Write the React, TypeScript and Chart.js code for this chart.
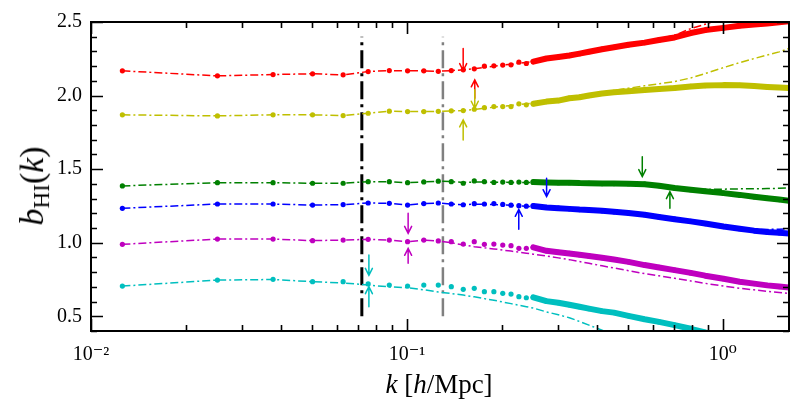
import React, { useEffect, useRef } from "react";
import { Chart, registerables } from "chart.js";

Chart.register(...registerables);

// wavenumbers k [h/Mpc] of the measured modes
const kValues = [
  0.01257, 0.02513, 0.0377, 0.05027, 0.06283, 0.0754, 0.08796, 0.1005, 0.1131, 0.1257,
  0.1382, 0.1508, 0.1634, 0.1759, 0.1885, 0.2011, 0.2136, 0.2262, 0.2388, 0.2513,
  0.2765, 0.3016, 0.3267, 0.3519, 0.377,
  0.4147, 0.4524, 0.5027, 0.5655, 0.6283, 0.7037, 0.7917, 0.8796, 1.0053, 1.131,
  1.2566, 1.3823, 1.508, 1.621,
];

// measured bias (dots)
const redData = [
  2.168, 2.134, 2.143, 2.148, 2.141, 2.163, 2.17, 2.168, 2.168, 2.165,
  2.17, 2.175, 2.182, 2.2, 2.202, 2.207, 2.209, 2.227, 2.218, 2.231,
  2.252, 2.262, 2.272, 2.285, 2.298,
  2.315, 2.328, 2.345, 2.36, 2.378, 2.395, 2.425, 2.445, 2.46, 2.475,
  2.483, 2.49, 2.498, 2.505,
];
const yellowData = [
  1.869, 1.862, 1.869, 1.869, 1.864, 1.88, 1.894, 1.891, 1.891, 1.893,
  1.896, 1.898, 1.907, 1.918, 1.925, 1.925, 1.925, 1.944, 1.937, 1.944,
  1.959, 1.966, 1.982, 1.989, 2.0,
  2.014, 2.022, 2.03, 2.038, 2.045, 2.052, 2.062, 2.068, 2.071, 2.07,
  2.065, 2.059, 2.055, 2.052,
];
const greenData = [
  1.386, 1.408, 1.408, 1.404, 1.404, 1.415, 1.415, 1.408, 1.413, 1.418,
  1.415, 1.404, 1.42, 1.415, 1.41, 1.412, 1.41, 1.412, 1.41, 1.412,
  1.41, 1.408, 1.408, 1.405, 1.404,
  1.402, 1.402, 1.401, 1.398, 1.387, 1.372, 1.36, 1.35, 1.337, 1.325,
  1.312, 1.302, 1.293, 1.285,
];
const blueData = [
  1.234, 1.263, 1.263, 1.256, 1.259, 1.27, 1.268, 1.256, 1.266, 1.27,
  1.263, 1.258, 1.265, 1.263, 1.266, 1.26, 1.255, 1.252, 1.248, 1.25,
  1.24, 1.235, 1.23, 1.225, 1.222,
  1.217, 1.21, 1.202, 1.19, 1.175, 1.16, 1.145, 1.13, 1.11, 1.095,
  1.082, 1.073, 1.067, 1.062,
];
const magentaData = [
  0.989, 1.025, 1.025, 1.014, 1.018, 1.023, 1.018, 1.007, 1.018, 1.012,
  1.007, 0.991, 1.007, 0.989, 0.991, 0.984, 0.98, 0.962, 0.962, 0.969,
  0.945, 0.935, 0.927, 0.918, 0.91,
  0.898, 0.886, 0.87, 0.848, 0.832, 0.814, 0.795, 0.776, 0.755, 0.735,
  0.722, 0.71, 0.702, 0.695,
];
const cyanData = [
  0.705, 0.746, 0.751, 0.735, 0.735, 0.72, 0.712, 0.705, 0.712, 0.712,
  0.701, 0.683, 0.69, 0.667, 0.667, 0.656, 0.651, 0.633, 0.626, 0.629,
  0.603, 0.592, 0.578, 0.565, 0.552,
  0.535, 0.525, 0.503, 0.48, 0.462, 0.44, 0.415, 0.39, 0.365, 0.345,
  0.33, 0.315, 0.305, 0.295,
];

// model curves (dash-dot)
const redModel = [
  2.168, 2.134, 2.143, 2.148, 2.141, 2.163, 2.17, 2.168, 2.168, 2.165,
  2.17, 2.175, 2.183, 2.192, 2.2, 2.207, 2.213, 2.22, 2.226, 2.232,
  2.246, 2.259, 2.271, 2.283, 2.295,
  2.312, 2.328, 2.346, 2.366, 2.385, 2.41, 2.455, 2.485, 2.525, 2.56,
  2.59, 2.62, 2.65, 2.67,
];
const yellowModel = [
  1.869, 1.862, 1.869, 1.869, 1.864, 1.88, 1.894, 1.891, 1.891, 1.893,
  1.896, 1.898, 1.905, 1.914, 1.921, 1.927, 1.933, 1.939, 1.944, 1.949,
  1.959, 1.968, 1.978, 1.988, 1.998,
  2.018, 2.035, 2.05, 2.066, 2.08, 2.095, 2.12, 2.15, 2.19, 2.224,
  2.252, 2.275, 2.297, 2.32,
];
const greenModel = [
  1.386, 1.408, 1.408, 1.404, 1.404, 1.415, 1.415, 1.408, 1.413, 1.418,
  1.415, 1.41, 1.412, 1.412, 1.411, 1.411, 1.41, 1.41, 1.41, 1.409,
  1.408, 1.407, 1.406, 1.405, 1.404,
  1.402, 1.401, 1.399, 1.395, 1.386, 1.374, 1.364, 1.362, 1.364, 1.366,
  1.367, 1.368, 1.37, 1.372,
];
const blueModel = [
  1.234, 1.263, 1.263, 1.256, 1.259, 1.27, 1.268, 1.256, 1.266, 1.27,
  1.263, 1.258, 1.262, 1.261, 1.259, 1.257, 1.254, 1.251, 1.248, 1.245,
  1.239, 1.234, 1.229, 1.225, 1.221,
  1.215, 1.209, 1.201, 1.19, 1.176, 1.161, 1.146, 1.131, 1.113, 1.099,
  1.091, 1.09, 1.092, 1.095,
];
const magentaModel = [
  0.989, 1.025, 1.025, 1.014, 1.018, 1.023, 1.018, 1.007, 1.018, 1.012,
  1.0, 0.985, 0.973, 0.965, 0.958, 0.95, 0.943, 0.936, 0.929, 0.922,
  0.91, 0.897, 0.885, 0.872, 0.86,
  0.843, 0.828, 0.81, 0.79, 0.775, 0.758, 0.74, 0.724, 0.705, 0.69,
  0.68, 0.67, 0.662, 0.655,
];
const cyanModel = [
  0.705, 0.746, 0.75, 0.735, 0.727, 0.712, 0.7, 0.694, 0.68, 0.665,
  0.655, 0.644, 0.632, 0.62, 0.609, 0.597, 0.586, 0.575, 0.565, 0.556,
  0.53, 0.51, 0.49, 0.465, 0.44,
  0.405, 0.375, 0.34, 0.3, 0.26, 0.22, 0.18, 0.15, 0.12, 0.1,
  0.08, 0.06, 0.05, 0.04,
];

const seriesColors = ["#ff0000", "#bfbf00", "#008000", "#0000ff", "#bf00bf", "#00bfbf"];

// vertical reference lines
const vlineK = [0.072, 0.13];
const vlineColors = ["#000000", "#808080"];
const vlineRange = [0.5, 2.4];

// arrows (k, from, to, colour index)
const arrowK = [0.1507, 0.164, 0.164, 0.1507, 0.556, 0.68, 0.2768, 0.226, 0.1009, 0.1009, 0.0758, 0.0758];
const arrowFrom = [2.32, 1.982, 2.04, 1.698, 1.585, 1.234, 1.438, 1.091, 1.2, 0.86, 0.916, 0.565];
const arrowTo = [2.17, 2.107, 1.914, 1.835, 1.449, 1.347, 1.313, 1.227, 1.064, 0.962, 0.778, 0.701];
const arrowColor = [0, 0, 1, 1, 2, 2, 3, 3, 4, 4, 5, 5];

// axis ticks
const xTickValues = [0.01, 0.1, 1];
const xTickLabels = ["10⁻²", "10⁻¹", "10⁰"];
const yTickValues = [0.5, 1.0, 1.5, 2.0, 2.5];

const X_MIN = 0.01;
const X_MAX = 1.62;
const Y_MIN = 0.4;
const Y_MAX = 2.5;
const BAND_START_K = 0.25;

const FONT = "'Liberation Serif', 'DejaVu Serif', serif";

const decorPlugin = {
  id: "decor",
  afterDatasetsDraw(chart: any) {
    const { ctx, chartArea: a, scales } = chart;
    const xs = scales.x;
    const ys = scales.y;
    ctx.save();
    // arrows
    ctx.lineWidth = 1.5;
    ctx.lineCap = "round";
    for (let i = 0; i < arrowK.length; i++) {
      const px = xs.getPixelForValue(arrowK[i]);
      const y0 = ys.getPixelForValue(arrowFrom[i]);
      const y1 = ys.getPixelForValue(arrowTo[i]);
      const dir = y1 > y0 ? 1 : -1;
      ctx.strokeStyle = seriesColors[arrowColor[i]];
      ctx.beginPath();
      ctx.moveTo(px, y0);
      ctx.lineTo(px, y1);
      ctx.moveTo(px - 3.5, y1 - dir * 7);
      ctx.lineTo(px, y1);
      ctx.lineTo(px + 3.5, y1 - dir * 7);
      ctx.stroke();
    }
    // frame
    ctx.lineCap = "butt";
    ctx.strokeStyle = "#000";
    ctx.lineWidth = 2;
    ctx.strokeRect(a.left, a.top, a.right - a.left, a.bottom - a.top);
    // y ticks (inward, left & right)
    ctx.lineWidth = 1.6;
    ctx.beginPath();
    for (let i = 4; i <= 25; i++) {
      const v = i / 10;
      const py = Math.round(ys.getPixelForValue(v)) + 0.5;
      const len = i % 5 === 0 ? 12 : 6;
      ctx.moveTo(a.left, py);
      ctx.lineTo(a.left + len, py);
      ctx.moveTo(a.right, py);
      ctx.lineTo(a.right - len, py);
    }
    // x ticks (inward, bottom & top)
    for (const d of xTickValues) {
      for (let m = 1; m <= 9; m++) {
        const v = m * d;
        if (v < X_MIN - 1e-9 || v > X_MAX) continue;
        const px = Math.round(xs.getPixelForValue(v)) + 0.5;
        const len = m === 1 ? 12 : 6;
        ctx.moveTo(px, a.bottom);
        ctx.lineTo(px, a.bottom - len);
        ctx.moveTo(px, a.top);
        ctx.lineTo(px, a.top + len);
      }
    }
    ctx.stroke();
    ctx.restore();
  },
};

export default function App() {
  const ref = useRef<HTMLCanvasElement>(null);

  useEffect(() => {
    if (!ref.current) return;
    const dots = [redData, yellowData, greenData, blueData, magentaData, cyanData];
    const models = [redModel, yellowModel, greenModel, blueModel, magentaModel, cyanModel];
    const datasets: any[] = [];
    models.forEach((m, si) => {
      datasets.push({
        data: kValues.map((k, i) => ({ x: k, y: m[i] })),
        borderColor: seriesColors[si],
        borderWidth: 1.5,
        borderDash: [8, 3, 2, 3],
        pointRadius: 0,
        fill: false,
        tension: 0,
      });
    });
    dots.forEach((d, si) => {
      const c = seriesColors[si];
      datasets.push({
        data: kValues.map((k, i) => ({ x: k, y: d[i] })),
        borderColor: "rgba(0,0,0,0)",
        borderWidth: 6,
        borderCapStyle: "round",
        borderJoinStyle: "round",
        pointRadius: 2.6,
        pointBackgroundColor: c,
        pointBorderWidth: 0,
        fill: false,
        tension: 0,
        segment: {
          borderColor: (ctx: any) => (ctx.p0.parsed.x >= BAND_START_K ? c : "rgba(0,0,0,0)"),
        },
      });
    });
    vlineK.forEach((k, i) => {
      datasets.push({
        data: vlineRange.map((v) => ({ x: k, y: v })),
        borderColor: vlineColors[i],
        borderWidth: i === 0 ? 3 : 2.5,
        borderDash: [18, 5, 3, 5],
        pointRadius: 0,
        fill: false,
      });
    });

    const chart = new Chart(ref.current, {
      type: "line",
      data: { datasets },
      options: {
        animation: false,
        responsive: false,
        devicePixelRatio: 1,
        events: [],
        layout: { padding: { top: 22, right: 15, left: 0, bottom: 0 } },
        plugins: { legend: { display: false }, tooltip: { enabled: false } },
        scales: {
          x: {
            type: "logarithmic",
            min: X_MIN,
            max: X_MAX,
            grid: { display: false, drawTicks: false },
            border: { display: false },
            afterBuildTicks: (scale: any) => {
              scale.ticks = xTickValues.map((v) => ({ value: v }));
            },
            afterFit: (scale: any) => {
              scale.height = 82;
            },
            ticks: {
              autoSkip: false,
              maxRotation: 0,
              padding: 12,
              color: "#000",
              font: { family: FONT, size: 20 },
              callback: (v: any) => {
                const idx = xTickValues.findIndex((t) => Math.abs(t - Number(v)) < 1e-9);
                return idx >= 0 ? xTickLabels[idx] : "";
              },
            },
          },
          y: {
            type: "linear",
            min: Y_MIN,
            max: Y_MAX,
            grid: { display: false, drawTicks: false },
            border: { display: false },
            afterBuildTicks: (scale: any) => {
              scale.ticks = yTickValues.map((v) => ({ value: v }));
            },
            afterFit: (scale: any) => {
              scale.width = 91;
            },
            ticks: {
              padding: 9,
              color: "#000",
              font: { family: FONT, size: 20 },
              callback: (v: any) => Number(v).toFixed(1),
            },
          },
        },
      },
      plugins: [decorPlugin],
    } as any);
    return () => chart.destroy();
  }, []);

  return (
    <div
      style={{
        position: "fixed",
        left: 0,
        top: 0,
        width: 804,
        height: 413,
        background: "#fff",
        overflow: "hidden",
      }}
    >
      <canvas ref={ref} width={804} height={413} style={{ display: "block", width: 804, height: 413 }} />
      <div
        style={{
          position: "absolute",
          left: 34,
          top: 186,
          transform: "translate(-50%, -50%) rotate(-90deg)",
          fontFamily: FONT,
          fontSize: 34,
          lineHeight: 1,
          whiteSpace: "nowrap",
          color: "#000",
        }}
      >
        <i>b</i>
        <sub style={{ fontSize: "0.68em", verticalAlign: "-0.25em" }}>HI</sub>(<i>k</i>)
      </div>
      <div
        style={{
          position: "absolute",
          left: 439,
          top: 384,
          transform: "translate(-50%, -50%)",
          fontFamily: FONT,
          fontSize: 27,
          lineHeight: 1,
          whiteSpace: "nowrap",
          color: "#000",
        }}
      >
        <i>k</i> [<i>h</i>/Mpc]
      </div>
    </div>
  );
}
